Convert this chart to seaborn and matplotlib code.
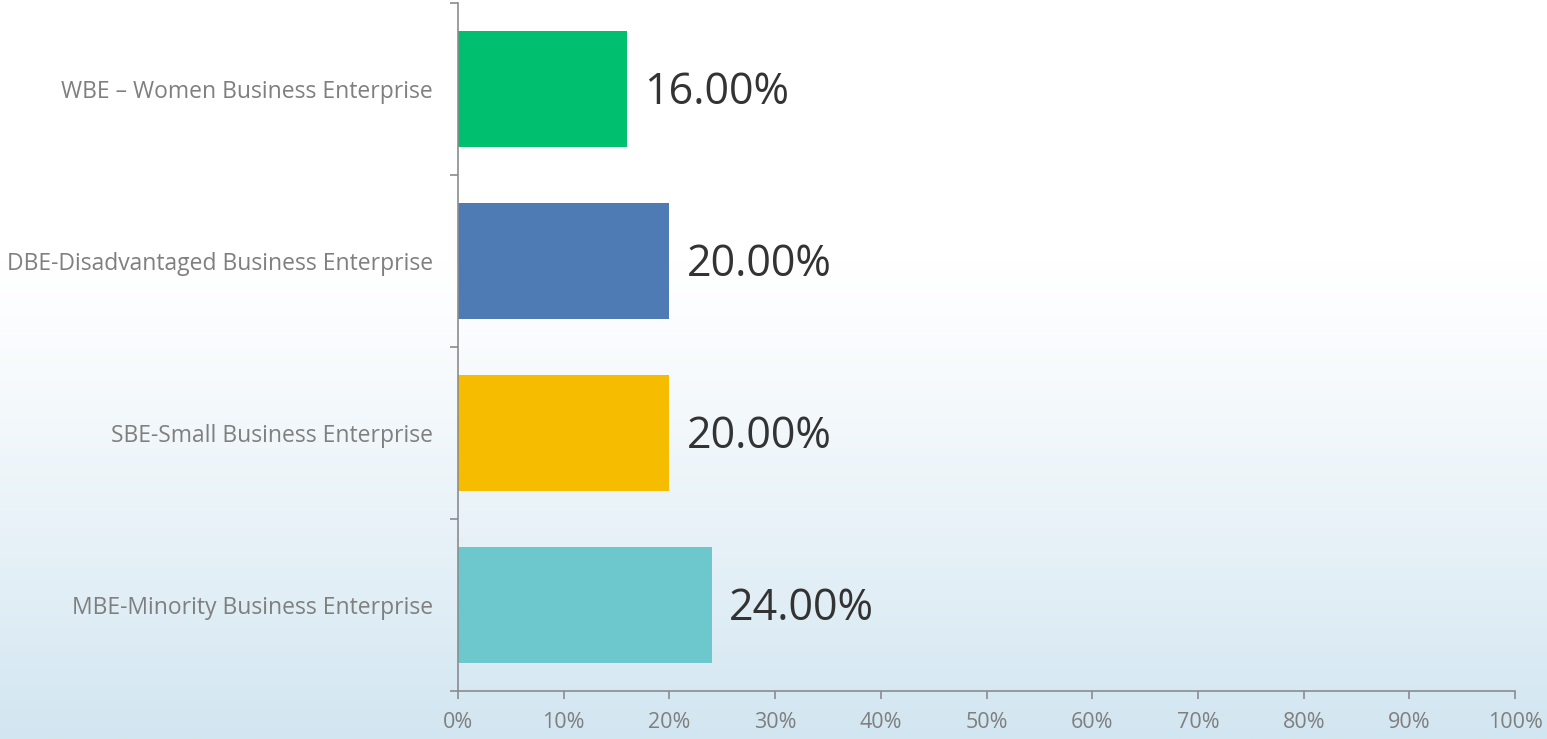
import numpy as np
import pandas as pd
import seaborn as sns
import matplotlib.pyplot as plt
from matplotlib.colors import LinearSegmentedColormap
from matplotlib.ticker import FixedLocator, PercentFormatter

# data
categories = ["WBE \u2013 Women Business Enterprise",
              "DBE-Disadvantaged Business Enterprise",
              "SBE-Small Business Enterprise",
              "MBE-Minority Business Enterprise"]
values = [16.0, 20.0, 20.0, 24.0]
colors = ["#00BF6F", "#4F7BB5", "#F5BC00", "#6CC8CC"]
x_ticks = [0, 10, 20, 30, 40, 50, 60, 70, 80, 90, 100]

df = pd.DataFrame({"category": categories, "value": values})

sns.set_style("white")
plt.rcParams['font.family'] = ['Open Sans', 'DejaVu Sans']

fig = plt.figure(figsize=(15.47, 7.39), dpi=100)

# soft watery backdrop (white at top, pale blue towards the bottom)
bg = fig.add_axes([0, 0, 1, 1], zorder=-1)
grad = np.linspace(0, 1, 256).reshape(-1, 1)
grad = np.clip((grad - 0.35) / 0.65, 0, 1) ** 1.2
water = LinearSegmentedColormap.from_list("water", ["#ffffff", "#e8f2f8", "#d2e6f1"])
bg.imshow(grad, aspect="auto", cmap=water, extent=[0, 1, 0, 1],
          origin="upper", vmin=0, vmax=1)
bg.axis("off")

ax = fig.add_axes([0.2961, 0.0650, 0.6833, 0.9309])
ax.patch.set_alpha(0)

sns.barplot(data=df, x="value", y="category", hue="category", palette=colors,
            legend=False, width=0.67, saturation=1, linewidth=0, ax=ax)

for i, v in enumerate(values):
    ax.text(v + 1.6, i + 0.02, f"{v:.2f}%", va="center", ha="left",
            fontsize=31, color="#333333")

ax.set_xlim(0, 100)
ax.set_ylim(3.5, -0.5)
ax.set_xticks(x_ticks)
ax.xaxis.set_major_formatter(PercentFormatter(decimals=0))
ax.set_xlabel("")
ax.set_ylabel("")

ax.yaxis.set_minor_locator(FixedLocator([-0.5, 0.5, 1.5, 2.5, 3.5]))
ax.tick_params(axis="y", which="major", length=0, pad=18, labelsize=16.5, labelcolor="#7f7f7f")
ax.tick_params(axis="y", which="minor", length=6, width=1.2, color="#8c8c8c", left=True)
ax.tick_params(axis="x", which="major", length=6, width=1.2, color="#8c8c8c",
               bottom=True, labelsize=15.5, labelcolor="#7f7f7f", pad=9)

for s in ["top", "right"]:
    ax.spines[s].set_visible(False)
for s in ["left", "bottom"]:
    ax.spines[s].set_color("#8c8c8c")
    ax.spines[s].set_linewidth(1.2)

fig.savefig("out.png", dpi=100)
